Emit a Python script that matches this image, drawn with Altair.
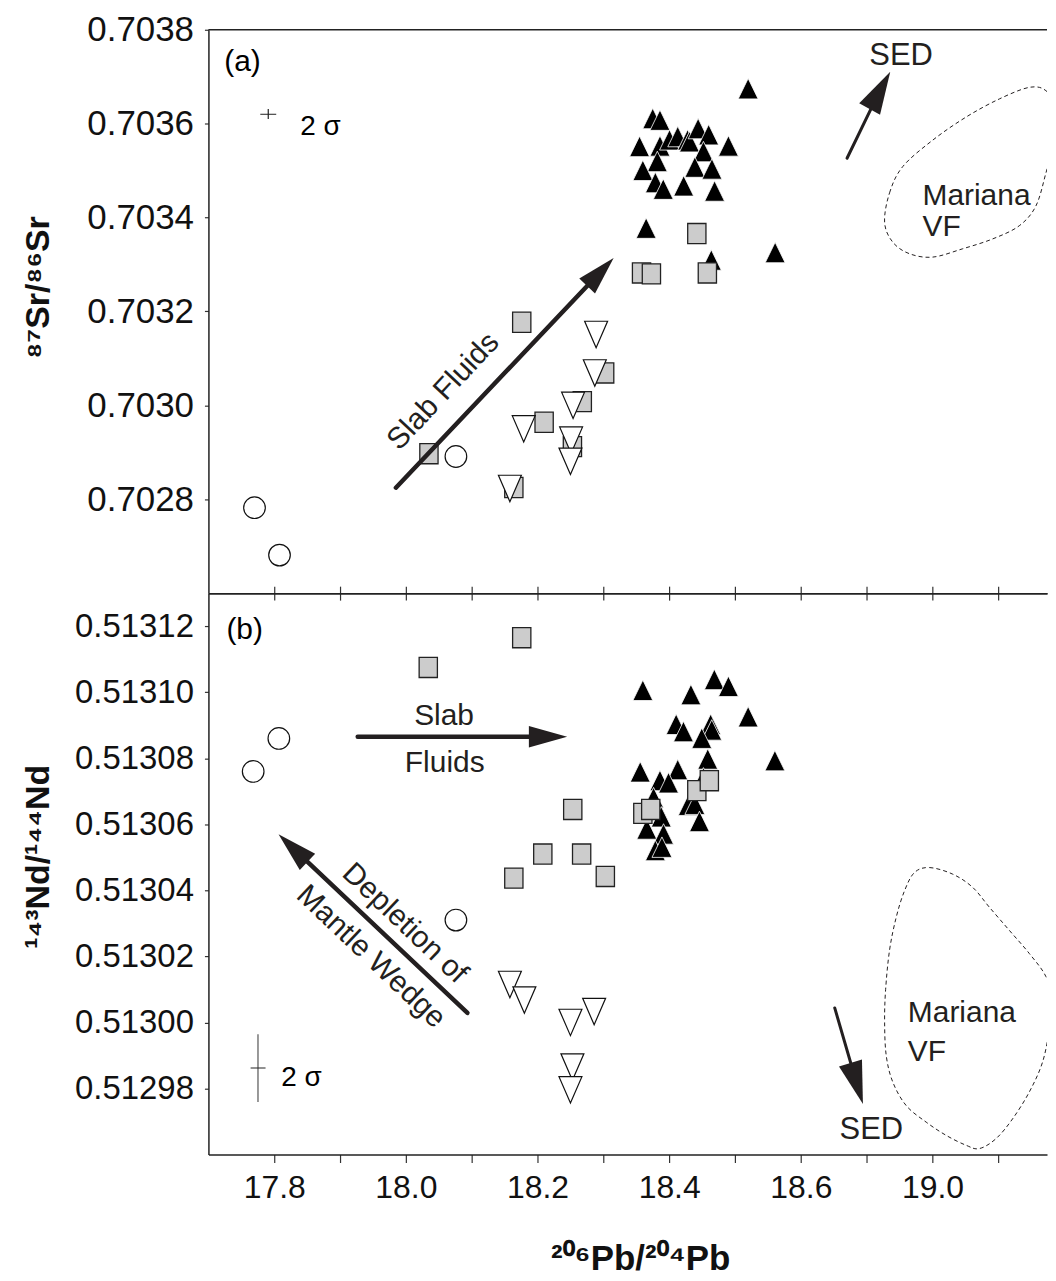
import altair as alt
import pandas as pd

FONT = "Liberation Sans"
INK = "#231f20"

X_DOMAIN = [17.7, 18.974]
SR_DOMAIN = [0.7026, 0.7038]
ND_DOMAIN = [0.51296, 0.51313]
X_TICKS = [17.8, 17.9, 18.0, 18.1, 18.2, 18.3, 18.4, 18.5, 18.6, 18.7, 18.8, 18.9]
SR_TICKS = [0.7028, 0.7030, 0.7032, 0.7034, 0.7036, 0.7038]
ND_TICKS = [0.51298, 0.51300, 0.51302, 0.51304, 0.51306, 0.51308, 0.51310, 0.51312]

W, H_TOP, H_BOT = 841, 565, 563

# ---------------- panel (a): 87Sr/86Sr ----------------
a_circle_pb = [17.770, 17.808, 18.076]
a_circle_sr = [0.702782, 0.702681, 0.702891]

a_square_pb = [18.035, 18.176, 18.210, 18.302, 18.268, 18.253, 18.164, 18.442, 18.358, 18.373, 18.458]
a_square_sr = [0.702897, 0.703177, 0.702964, 0.703069, 0.703008, 0.702912, 0.702825,
               0.703366, 0.703282, 0.703280, 0.703282]

a_down_pb = [18.289, 18.287, 18.254, 18.179, 18.251, 18.250, 18.158]
a_down_sr = [0.703151, 0.703069, 0.703000, 0.702950, 0.702926, 0.702881, 0.702823]

a_up_pb = [18.520, 18.375, 18.386, 18.355, 18.386, 18.4005, 18.413, 18.428, 18.4308, 18.444,
           18.460, 18.490, 18.452, 18.382, 18.360, 18.439, 18.465, 18.379, 18.391, 18.422,
           18.469, 18.365, 18.464, 18.561]
a_up_sr = [0.703674, 0.7036105, 0.703607, 0.703551, 0.703552, 0.703565, 0.703572, 0.703565, 0.703561, 0.703589,
           0.703576, 0.703552, 0.703540, 0.703519, 0.703500, 0.703507, 0.703503, 0.703474, 0.703460, 0.703467,
           0.703456, 0.703377, 0.703309, 0.703325]

a_blob_pb = [18.7273, 18.7348, 18.7550, 18.8005, 18.8511, 18.9015, 18.9470, 18.9723, 18.9848,
             18.9823, 18.9723, 18.9571, 18.9318, 18.8914, 18.8459, 18.8005, 18.7652, 18.7398]
a_blob_sr = [0.7033895, 0.7034526, 0.7035088, 0.7035650, 0.7036141, 0.7036526, 0.7036773, 0.7036703, 0.7036352,
             0.7035509, 0.7034947, 0.7034246, 0.7033825, 0.7033545, 0.7033335, 0.7033158, 0.7033229, 0.7033474]

# ---------------- panel (b): 143Nd/144Nd ----------------
b_circle_pb = [17.807, 17.768, 18.076]
b_circle_nd = [0.513086, 0.513076, 0.513031]

b_square_pb = [18.176, 18.034, 18.2535, 18.208, 18.267, 18.164, 18.303, 18.360, 18.372, 18.442, 18.461]
b_square_nd = [0.5131165, 0.5131075, 0.5130645, 0.5130510, 0.5130510, 0.5130437, 0.5130442,
               0.5130633, 0.5130645, 0.5130702, 0.5130732]

b_down_pb = [18.158, 18.180, 18.250, 18.286, 18.253, 18.250]
b_down_nd = [0.5130115, 0.5130068, 0.5130000, 0.5130033, 0.5129865, 0.5129796]

b_up_pb = [18.360, 18.4686, 18.490, 18.433, 18.520, 18.4106, 18.4217, 18.463, 18.4647, 18.4495,
           18.5606, 18.4586, 18.356, 18.413, 18.386, 18.399, 18.452, 18.429, 18.439, 18.3763,
           18.388, 18.446, 18.366, 18.3914, 18.379, 18.389]
b_up_nd = [0.5131005, 0.5131038, 0.5131017, 0.5130992, 0.5130925, 0.5130902, 0.5130880, 0.5130902, 0.5130885, 0.5130860,
           0.5130792, 0.5130797, 0.5130758, 0.5130765, 0.5130732, 0.5130725, 0.5130740, 0.5130657, 0.5130660, 0.5130680,
           0.5130622, 0.5130608, 0.5130585, 0.5130570, 0.5130520, 0.5130530]

b_blob_pb = [18.7727, 18.7955, 18.8308, 18.8611, 18.8864, 18.9167, 18.9470, 18.9723, 18.9798, 18.9773,
             18.9671, 18.9470, 18.9217, 18.8965, 18.8712, 18.8511, 18.8208, 18.7905, 18.7602, 18.7398,
             18.7298, 18.7273, 18.7288, 18.7348, 18.7450, 18.7576]
b_blob_nd = [0.5130454, 0.5130469, 0.5130449, 0.5130409, 0.5130349, 0.5130279, 0.5130209, 0.5130139, 0.5130069, 0.5129979,
             0.5129879, 0.5129789, 0.5129708, 0.5129648, 0.5129618, 0.5129628, 0.5129658, 0.5129698, 0.5129748, 0.5129819,
             0.5129899, 0.5129999, 0.5130099, 0.5130219, 0.5130319, 0.5130399]

# marker shapes (custom paths, unit box -1..1)
UP = "M0,-1.05L1,1L-1,1Z"
DOWN = "M-1,-1.15L1,-1.15L0,1.15Z"
SQUARE = "M-1,-1.1L1,-1.1L1,1.1L-1,1.1Z"
HEAD = "M0,-1L0.56,1L-0.56,1Z"


def xs(axis=None):
    return alt.X("pb:Q", scale=alt.Scale(domain=X_DOMAIN, nice=False, zero=False), axis=axis)


def ys(domain, axis=None):
    return alt.Y("v:Q", scale=alt.Scale(domain=domain, nice=False, zero=False), axis=axis)


def points(pb, v, domain, shape, size, fill, stroke, sw, xaxis=None, yaxis=None):
    df = pd.DataFrame({"pb": pb, "v": v})
    return alt.Chart(df).mark_point(
        shape=shape, size=size, filled=True, fill=fill, stroke=stroke,
        strokeWidth=sw, opacity=1, fillOpacity=1, strokeOpacity=1
    ).encode(x=xs(xaxis), y=ys(domain, yaxis))


def arrow(p0, head, domain, width, head_size, ang):
    df = pd.DataFrame({"pb": [p0[0], head[0]], "v": [p0[1], head[1]], "i": [0, 1]})
    line = alt.Chart(df).mark_line(color=INK, strokeWidth=width, strokeCap="round").encode(
        x=xs(), y=ys(domain), order="i:Q")
    hd = alt.Chart(pd.DataFrame({"pb": [head[0]], "v": [head[1]]})).mark_point(
        shape=HEAD, size=head_size, angle=ang, filled=True, color=INK, opacity=1, strokeWidth=0
    ).encode(x=xs(), y=ys(domain))
    return [line, hd]


def blob(pb, v, domain):
    df = pd.DataFrame({"pb": pb, "v": v, "i": list(range(len(pb)))})
    return alt.Chart(df).mark_line(
        interpolate="cardinal-closed", strokeDash=[4, 3], strokeWidth=1, color=INK, clip=True
    ).encode(x=xs(), y=ys(domain), order="i:Q")


def label(text, pb, v, domain, size=30, align="left", baseline="alphabetic", angle=0, color=INK):
    df = pd.DataFrame({"pb": [pb], "v": [v], "t": [text]})
    return alt.Chart(df).mark_text(
        font=FONT, fontSize=size, align=align, baseline=baseline, angle=angle, color=color
    ).encode(x=xs(), y=ys(domain), text="t:N")


def hbar(pb1, pb2, v, domain, color="#222"):
    df = pd.DataFrame({"pb": [pb1], "pb2": [pb2], "v": [v]})
    return alt.Chart(df).mark_rule(color=color, strokeWidth=1).encode(
        x=xs(), x2=alt.X2("pb2:Q"), y=ys(domain))


def vbar(pb, v1, v2, domain, color="#222"):
    df = pd.DataFrame({"pb": [pb], "v": [v1], "v2": [v2]})
    return alt.Chart(df).mark_rule(color=color, strokeWidth=1.2).encode(
        x=xs(), y=ys(domain), y2=alt.Y2("v2:Q"))


axis_common = dict(grid=False, domainColor="#222", domainWidth=1.5, tickColor="#333", tickWidth=1.2,
                   labelFont=FONT, labelColor="#111", titleFont=FONT, titleColor="#111",
                   labelOverlap=False)

top_y_axis = alt.Axis(values=SR_TICKS, format=".4f", title="⁸⁷Sr/⁸⁶Sr", titleFontSize=34,
                      titleFontWeight="bold", titleX=-160, titleY=258, titleBaseline="alphabetic",
                      labelFontSize=35, tickSize=4, labelPadding=11, **axis_common)
top_x_axis = alt.Axis(orient="bottom", values=X_TICKS, labels=False, tickSize=7, title=None,
                      **axis_common)

bot_y_axis = alt.Axis(values=ND_TICKS, format=".5f", title="¹⁴³Nd/¹⁴⁴Nd", titleFontSize=34,
                      titleFontWeight="bold", titleX=-160, titleY=264, titleBaseline="alphabetic",
                      labelFontSize=33, tickSize=4, labelPadding=11, **axis_common)
bot_x_axis = alt.Axis(orient="bottom", values=X_TICKS, tickSize=8, labelPadding=10, labelFontSize=32,
                      labelExpr="round(datum.value*10) == 188 ? '19.0' : (round(datum.value*10) % 2 == 0 ? format(datum.value, '.1f') : '')",
                      title="²⁰⁶Pb/²⁰⁴Pb", titleFontSize=35, titleFontWeight="bold",
                      titleX=433, titleY=115, titleBaseline="alphabetic", **axis_common)
bot_top_axis = alt.Axis(orient="top", values=X_TICKS, labels=False, tickSize=7, title=None,
                        **axis_common)

frame_top = alt.Chart(pd.DataFrame({"z": [0]})).mark_rule(color="#222", strokeWidth=1.5).encode(
    x=alt.value(0), x2=alt.value(W), y=alt.value(0))

# ---------------- build panel (a) ----------------
S = SR_DOMAIN
top_layers = [
    frame_top,
    blob(a_blob_pb, a_blob_sr, S),
    points(a_up_pb, a_up_sr, S, UP, 400, "#000000", "#ffffff", 0.8, xaxis=top_x_axis, yaxis=top_y_axis),
    points(a_square_pb, a_square_sr, S, SQUARE, 335, "#cccccc", "#222222", 1.3),
    points(a_down_pb, a_down_sr, S, DOWN, 529, "#ffffff", "#111111", 1.2),
    points(a_circle_pb, a_circle_sr, S, "circle", 470, "#ffffff", "#111111", 1.2),
    *arrow((17.9848, 0.7028246), (18.2955, 0.7032841), S, 4.5, 1500, 43.3),
    *arrow((18.6702, 0.7035263), (18.7202, 0.7036709), S, 3, 1820, 29),
    hbar(17.7788, 17.8030, 0.703620, S),
    vbar(17.7909, 0.703631, 0.703610, S),
    label("(a)", 17.724, 0.703713, S, size=30, color="#000"),
    label("2 σ", 17.8394, 0.7035762, S, size=28, color="#000"),
    label("SED", 18.7523, 0.7037257, S, size=31, align="center"),
    label("Mariana", 18.7848, 0.7034267, S, size=30),
    label("VF", 18.7848, 0.7033615, S, size=30),
    label("Slab Fluids", 18.0568, 0.7030299, S, size=30, align="center", baseline="middle", angle=313.2),
]
top = alt.layer(*top_layers).properties(width=W, height=H_TOP).resolve_axis(x="independent", y="independent")

# ---------------- build panel (b) ----------------
N = ND_DOMAIN
bot_layers = [
    blob(b_blob_pb, b_blob_nd, N),
    points(b_up_pb, b_up_nd, N, UP, 400, "#000000", "#ffffff", 0.8, xaxis=bot_x_axis, yaxis=bot_y_axis),
    points(b_square_pb, b_square_nd, N, SQUARE, 335, "#cccccc", "#222222", 1.3, xaxis=bot_top_axis),
    points(b_down_pb, b_down_nd, N, DOWN, 529, "#ffffff", "#111111", 1.2),
    points(b_circle_pb, b_circle_nd, N, "circle", 470, "#ffffff", "#111111", 1.2),
    *arrow((17.9268, 0.5130865), (18.2159, 0.5130865), N, 4.5, 1475, 90),
    *arrow((18.0935, 0.5130029), (17.8285, 0.5130528), N, 4.5, 1600, 313.5),
    *arrow((18.6515, 0.5130044), (18.6849, 0.5129815), N, 3, 1849, 163.1),
    vbar(17.7753, 0.5129964, 0.5129759, N, color="#555"),
    hbar(17.7641, 17.7868, 0.5129862, N),
    label("(b)", 17.7273, 0.5131162, N, size=30, color="#000"),
    label("Slab", 18.058, 0.5130901, N, size=30, align="center"),
    label("Fluids", 18.059, 0.5130759, N, size=30, align="center"),
    label("Depletion of", 17.9985, 0.513030, N, size=30, align="center", baseline="middle", angle=43.5),
    label("Mantle Wedge", 17.947, 0.5130199, N, size=30, align="center", baseline="middle", angle=43.5),
    label("2 σ", 17.8106, 0.5129808, N, size=28, color="#000"),
    label("SED", 18.7071, 0.5129648, N, size=31, align="center"),
    label("Mariana", 18.7626, 0.5130000, N, size=30),
    label("VF", 18.7626, 0.5129884, N, size=30),
]
bottom = alt.layer(*bot_layers).properties(width=W, height=H_BOT).resolve_axis(x="independent", y="independent")

chart = alt.vconcat(top, bottom, spacing=0, bounds="flush").properties(
    padding={"left": 13, "top": 3, "right": 0, "bottom": 0}
).configure_view(stroke=None)

chart.save("out.html", embed_options={"renderer": "svg", "actions": False})
